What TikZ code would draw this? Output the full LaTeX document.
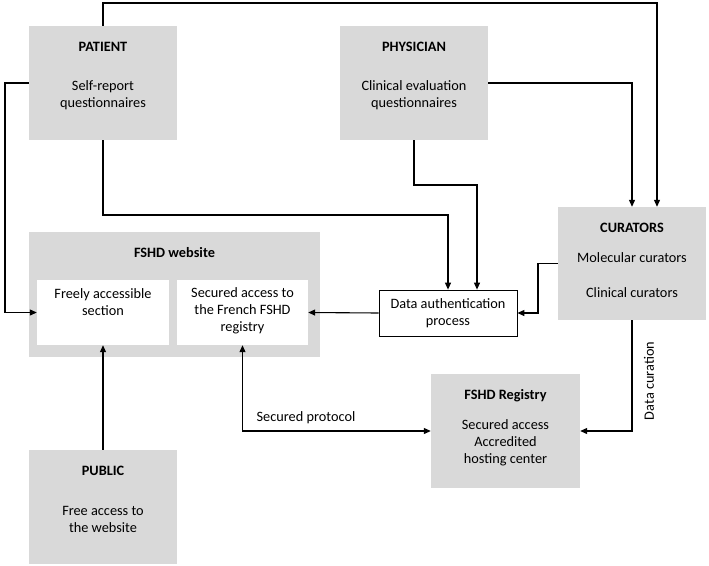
\documentclass[tikz,border=0pt]{standalone}
\usepackage{fontspec}
\setmainfont{Carlito}
\usetikzlibrary{arrows.meta}
\definecolor{boxgray}{HTML}{D9D9D9}
\begin{document}
\begin{tikzpicture}[x=1pt,y=-1pt,
  graybox/.style={fill=boxgray,draw=none,inner sep=0pt},
  whitebox/.style={fill=white,draw=none,inner sep=0pt},
  framebox/.style={fill=white,draw=black,line width=0.8pt,inner sep=0pt},
  txt/.style={font=\fontsize{14.3}{17}\selectfont,align=center,inner sep=0pt},
  ttl/.style={txt,font=\fontsize{14.3}{17}\selectfont\bfseries},
  conn/.style={line width=1.1pt,draw=black},
  arr/.style={conn,-{Triangle[length=7pt,width=6pt]}},
  arrb/.style={conn,{Triangle[length=7pt,width=6pt]}-{Triangle[length=7pt,width=6pt]}}
]
\useasboundingbox (0,0) rectangle (709,565);

% boxes
\node[graybox,minimum width=148pt,minimum height=114pt] (pat) at (103,83) {};
\node[ttl] (patT) at (103,47) {PATIENT};
\node[txt] (patB) at (103,95.5) {Self-report\\questionnaires};

\node[graybox,minimum width=148pt,minimum height=114pt] (phys) at (414,83) {};
\node[ttl] (physT) at (414,47) {PHYSICIAN};
\node[txt] (physB) at (414,95.5) {Clinical evaluation\\questionnaires};

\node[graybox,minimum width=148pt,minimum height=113pt] (cur) at (632,263.5) {};
\node[ttl] (curT) at (632,228) {CURATORS};
\node[txt] (curM) at (632,258) {Molecular curators};
\node[txt] (curC) at (632,293) {Clinical curators};

\node[framebox,minimum width=138pt,minimum height=46pt] (auth) at (448,313) {};
\node[txt] (authT) at (448,313.5) {Data authentication\\process};

\node[graybox,minimum width=291pt,minimum height=125pt] (web) at (174.5,294.5) {};
\node[ttl] (webT) at (174.5,253) {FSHD website};
\node[whitebox,minimum width=132pt,minimum height=65pt] (free) at (103,312.5) {};
\node[txt] (freeT) at (103,302.5) {Freely accessible\\section};
\node[whitebox,minimum width=131pt,minimum height=65pt] (sec) at (242.5,312.5) {};
\node[txt] (secT) at (242.5,311) {Secured access to\\the French FSHD\\registry};

\node[graybox,minimum width=148pt,minimum height=114pt] (pub) at (103,507) {};
\node[ttl] (pubT) at (103,471) {PUBLIC};
\node[txt] (pubB) at (103,519.5) {Free access to\\the website};

\node[graybox,minimum width=149pt,minimum height=114pt] (reg) at (505.5,431) {};
\node[ttl] (regT) at (505.5,396) {FSHD Registry};
\node[txt] (regB) at (505.5,443) {Secured access\\Accredited\\hosting center};

% bend coordinates
\coordinate (topy) at (0,3);
\coordinate (leftx) at (5,0);
\coordinate (j1) at (0,215);
\coordinate (j2) at (0,185);
\coordinate (j3) at (538,0);

% connectors
\draw[arr] (pat.north) -- (pat.north |- topy) -| ([xshift=25pt]cur.north);
\draw[arr] (phys.east) -| (cur.north);
\draw[arr] (pat.west) -- (pat.west -| leftx) |- (free.west);
\draw[arr] (pat.south) -- (pat.south |- j1) -| (auth.north);
\draw[arr] (phys.south) -- (phys.south |- j2) -| ([xshift=29pt]auth.north);
\draw[arr] (cur.west) -- (cur.west -| j3) |- (auth.east);
\draw[arr] (auth.west) -- (sec.east);
\draw[arr] (pub.north) -- (free.south);
\draw[arrb] (sec.south) |- (reg.west);
\draw[arr] (cur.south) |- (reg.east);

% connector labels
\node[txt] (lblSP) at (306,418) {Secured protocol};
\node[txt,rotate=90] (lblDC) at (649,381) {Data curation};
\end{tikzpicture}
\end{document}
